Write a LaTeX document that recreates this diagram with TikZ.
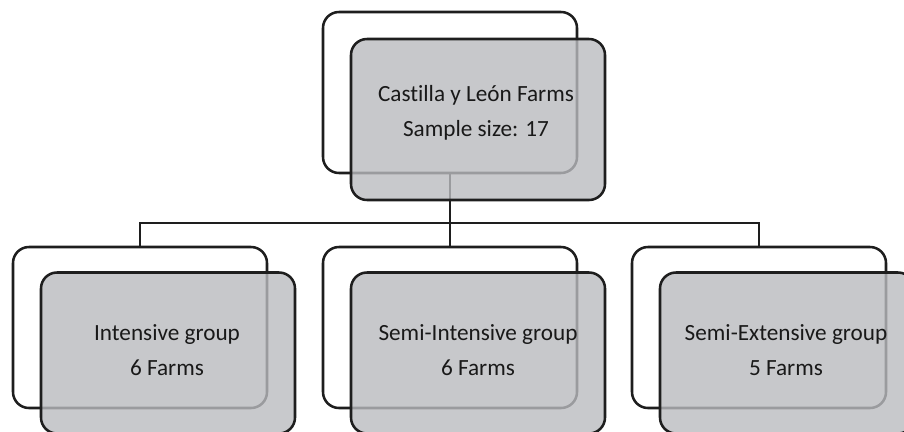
\documentclass[tikz,border=0pt]{standalone}
\usepackage{fontspec}
\setmainfont{Carlito}[Ligatures=NoCommon]
\definecolor{edge}{RGB}{30,30,30}
\definecolor{boxfill}{RGB}{186,187,191}
\definecolor{txt}{RGB}{25,25,25}
\begin{document}
\begin{tikzpicture}[x=0.75pt,y=-0.75pt,
  backbox/.style={draw=edge,line width=1.9pt,fill=white,rounded corners=12pt,
    minimum width=190.5pt,minimum height=120.75pt,inner sep=0pt},
  frontbox/.style={draw=edge,line width=1.9pt,fill=boxfill,fill opacity=0.8,
    rounded corners=12pt,minimum width=190.5pt,minimum height=120.75pt,inner sep=0pt},
  lbl/.style={text=txt,align=center,inner sep=0pt,
    font=\fontsize{17.4pt}{26pt}\selectfont},
  link/.style={draw=edge,line width=2pt}]
\useasboundingbox (0,0) rectangle (904,432);
\clip (0,0) rectangle (904,432);
% back boxes
\node[backbox] (tb) at (450,92.5) {};
\node[backbox] (lb) at (140,327.5) {};
\node[backbox] (mb) at (450,327.5) {};
\node[backbox] (rb) at (759,327.5) {};
% connectors
\coordinate (j) at (450,223);
\draw[link] (tb.south) -- (mb.north);
\draw[link] (lb.north) |- (j) -| (rb.north);
% front boxes
\node[frontbox] (tf) at (478,119.5) {};
\node[frontbox] (lf) at (168,353) {};
\node[frontbox] (mf) at (478,353) {};
\node[frontbox] (rf) at (787,353) {};
% labels
\node[lbl] (tt) at (476,113) {Castilla y León Farms\\Sample size: 17};
\node[lbl] (lt) at (167,350) {Intensive group\\6 Farms};
\node[lbl] (mt) at (478,350) {Semi-Intensive group\\6 Farms};
\node[lbl] (rt) at (786,350) {Semi-Extensive group\\5 Farms};
\end{tikzpicture}
\end{document}
